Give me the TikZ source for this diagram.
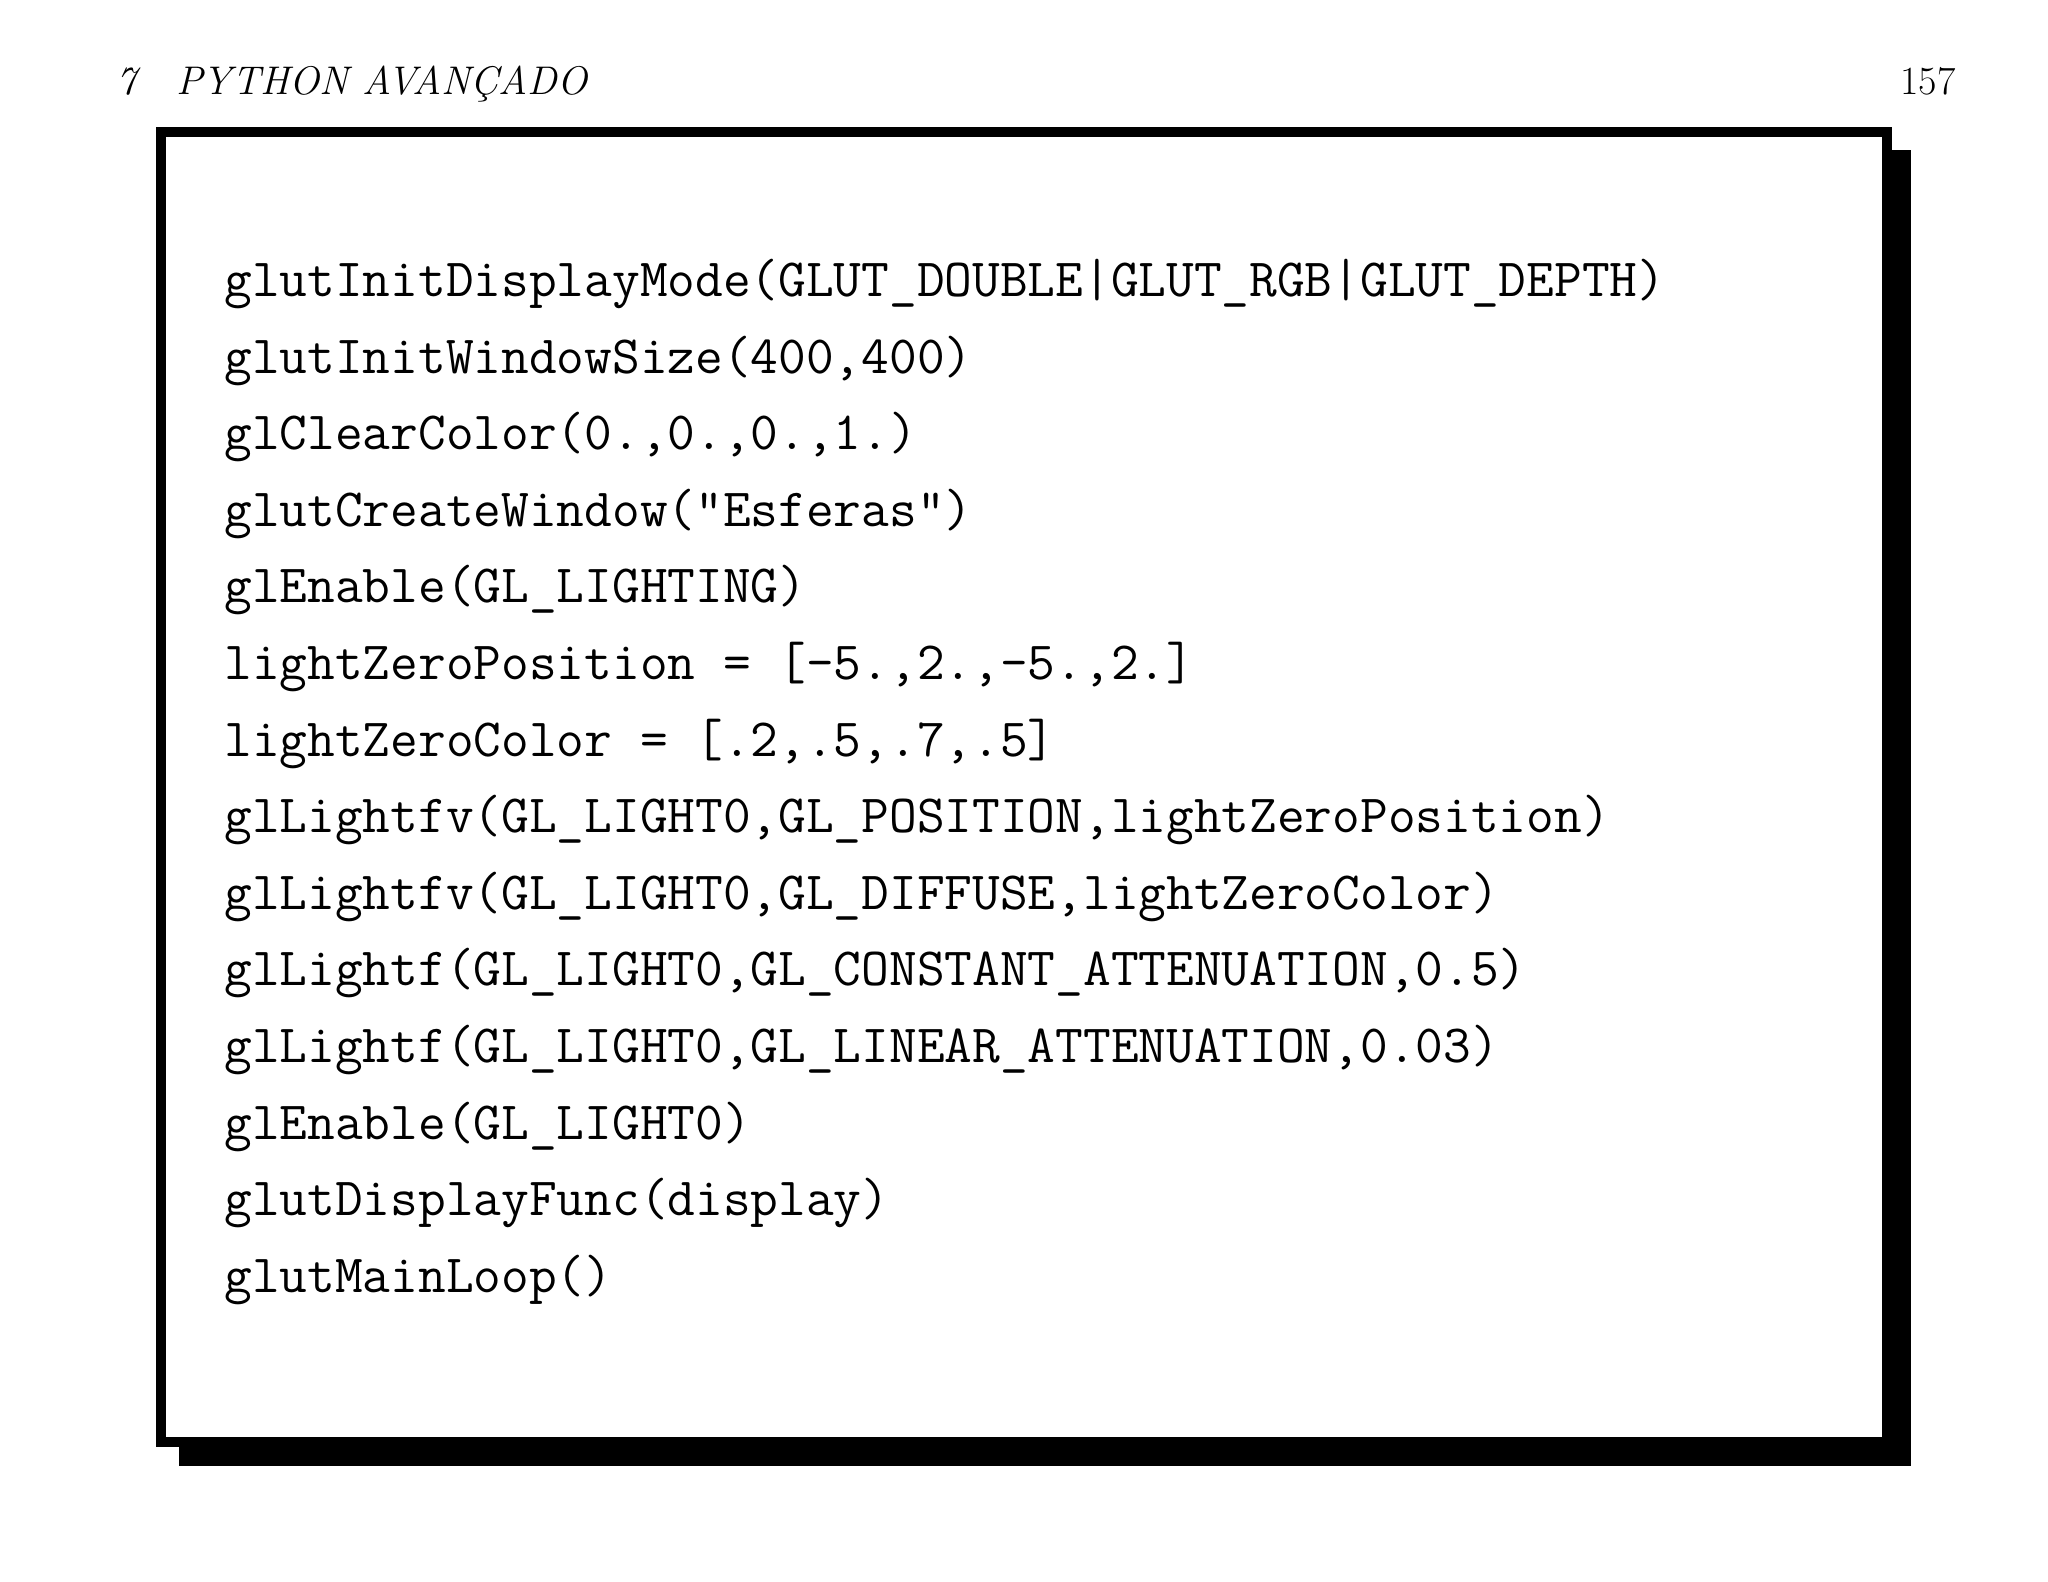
\documentclass[tikz,border=0pt]{standalone}
\begin{document}
\begin{tikzpicture}[x=0.5pt,y=-0.5pt,
  code/.style={anchor=west,inner sep=0pt,font=\fontsize{26.9}{30}\ttfamily},
  hdr/.style={anchor=base west,inner sep=0pt,font=\fontsize{20}{24}\itshape}]
\useasboundingbox[fill=white] (0,0) rectangle (2048,1582);
\fill[black] (179,150) rectangle (1911,1466);
\draw[line width=5.3pt,fill=white] (161,132) rectangle (1887,1442);
\node[hdr] (h1) at (116,95) {7\quad PYTHON AVANÇADO};
\node[hdr,anchor=base east,font=\fontsize{20}{24}\rmfamily] (h2) at (1956,95) {157};
\foreach \t [count=\i from 0] in {
glutInitDisplayMode(GLUT\_DOUBLE|GLUT\_RGB|GLUT\_DEPTH),
glutInitWindowSize(400{,}400),
glClearColor(0.{,}0.{,}0.{,}1.),
glutCreateWindow("Esferas"),
glEnable(GL\_LIGHTING),
lightZeroPosition = [-5.{,}2.{,}-5.{,}2.],
lightZeroColor = [.2{,}.5{,}.7{,}.5],
glLightfv(GL\_LIGHT0{,}GL\_POSITION{,}lightZeroPosition),
glLightfv(GL\_LIGHT0{,}GL\_DIFFUSE{,}lightZeroColor),
glLightf(GL\_LIGHT0{,}GL\_CONSTANT\_ATTENUATION{,}0.5),
glLightf(GL\_LIGHT0{,}GL\_LINEAR\_ATTENUATION{,}0.03),
glEnable(GL\_LIGHT0),
glutDisplayFunc(display),
glutMainLoop()}
  \node[code] (l\i) at (224,{284+76.6*\i}) {\t};
\end{tikzpicture}
\end{document}
